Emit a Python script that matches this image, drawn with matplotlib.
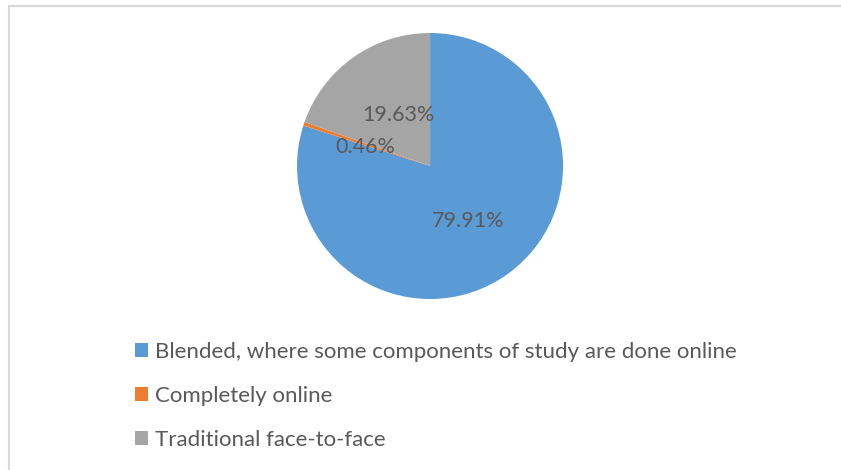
import matplotlib.pyplot as plt
from matplotlib.patches import Rectangle

# study mode shares
modes = ['Blended, where some components of study are done online',
         'Completely online',
         'Traditional face-to-face']
shares = [79.91, 0.46, 19.63]
colors = ['#5B9BD5', '#ED7D31', '#A5A5A5']

plt.rcParams['font.family'] = ['Lato', 'DejaVu Sans']
txt = '#595959'

fig = plt.figure(figsize=(8.41, 4.70), dpi=100)

# chart area frame (runs off the right and bottom edges)
fig.patches.append(Rectangle((8.5 / 841, -0.1), 1.0, 1 - 5.5 / 470 + 0.1,
                             transform=fig.transFigure, fill=False,
                             edgecolor='#D9D9D9', lw=1.5))

ax = fig.add_axes([0.3532, 0.3638, 0.3163, 0.566])
wedges, _, autotexts = ax.pie(shares, colors=colors, startangle=90,
                              counterclock=False, autopct='%.2f%%',
                              textprops=dict(color=txt, fontsize=15.5),
                              wedgeprops=dict(linewidth=0))
ax.set_xlim(-1, 1)
ax.set_ylim(-1, 1)
ax.set_aspect('auto')

# label spots inside each slice
label_pos = [(0.286, -0.414), (-0.489, 0.143), (-0.241, 0.383)]
for t, p in zip(autotexts, label_pos):
    t.set_position(p)
    t.set_ha('center')
    t.set_va('center')

leg = fig.legend(wedges, modes, loc='upper left',
                 bbox_to_anchor=(126 / 841, 1 - 333 / 470),
                 frameon=False, fontsize=16, labelcolor=txt,
                 handlelength=0.6, handleheight=0.6, handletextpad=0.3,
                 labelspacing=1.08, borderaxespad=0)

fig.savefig('out.png', dpi=100)
